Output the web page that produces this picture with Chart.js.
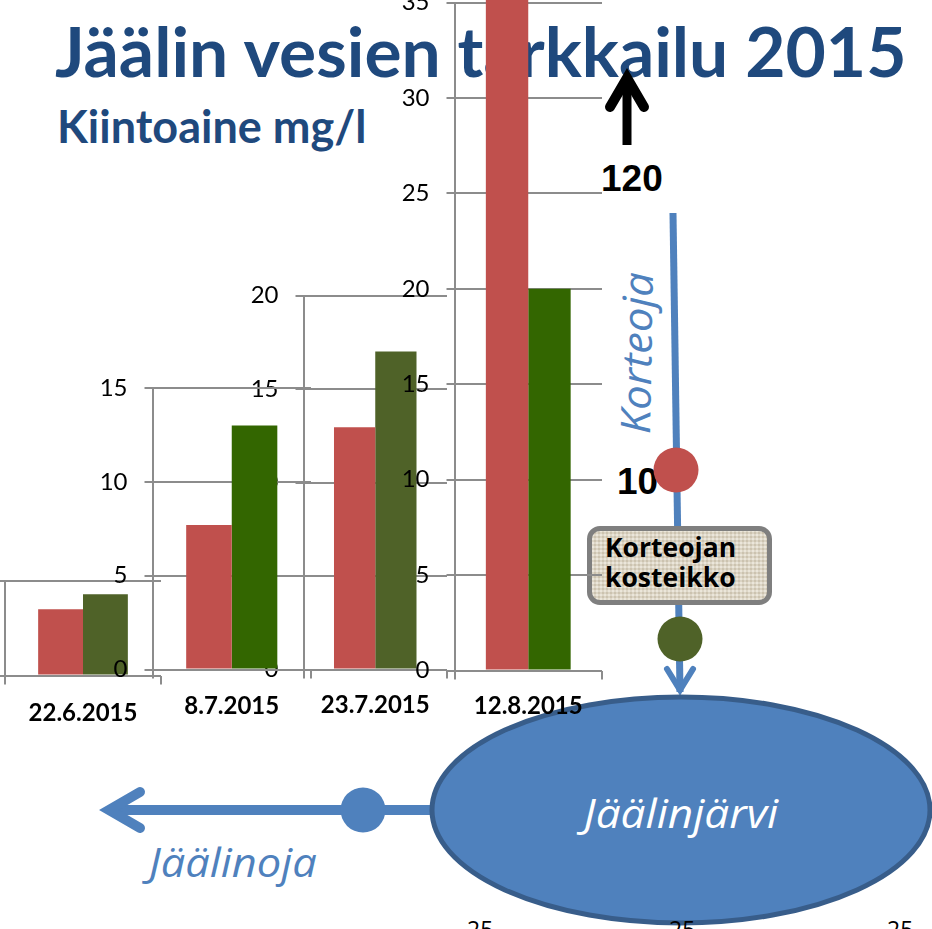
<!DOCTYPE html>
<html><head><meta charset="utf-8">
<script src="https://cdn.jsdelivr.net/npm/chart.js@4"></script>
<style>
html,body{margin:0;padding:0;background:#fff;width:932px;height:929px;overflow:hidden}
#stage{position:relative;width:932px;height:929px;overflow:hidden}
canvas.c{position:absolute}
.t{position:absolute;white-space:nowrap;line-height:1;margin:0}
#title{left:55px;top:16px;font:700 69.5px/1 Lato,sans-serif;color:#1F497D}
#sub{left:57px;top:104px;font:700 45px/1 Lato,sans-serif;color:#1F497D}
.b{font:700 37px/1 "Liberation Sans",Arial,sans-serif;color:#000}
.i{font:italic 400 41px/1 "Open Sans",sans-serif;color:#4F81BD}
.bt{font:400 23px/1 "Open Sans",sans-serif;color:#000}
#box{position:absolute;left:587px;top:526px;width:175px;height:69px;border:5px solid #7F7F7F;border-radius:13px;
background-color:#E0D8C6;background-image:repeating-linear-gradient(0deg,rgba(255,255,255,.2) 0 2px,rgba(120,105,80,.1) 2px 4px),repeating-linear-gradient(90deg,rgba(255,255,255,.2) 0 2px,rgba(120,105,80,.1) 2px 4px);
font:700 26.5px/30px "Open Sans",sans-serif;color:#000;padding:0}
#box span{position:absolute;left:13px;top:1px;white-space:nowrap}
svg{position:absolute;left:0;top:0}
</style></head><body>
<div id="stage">
<div class="t" id="title">Jäälin vesien tarkkailu 2015</div>
<div class="t" id="sub">Kiintoaine mg/l</div>
<svg width="932" height="929" viewBox="0 0 932 929">
 <g fill="none" stroke="#000" stroke-linecap="round" stroke-linejoin="miter">
  <line x1="627" y1="145" x2="627" y2="85" stroke-width="9" stroke-linecap="butt"/>
  <path d="M610 107 L627 78 L644 107" stroke-width="10"/>
 </g>
 <g fill="none" stroke="#4F81BD" stroke-linecap="round">
  <line x1="673" y1="213" x2="680" y2="692" stroke-width="7" stroke-linecap="butt"/>
  <path d="M667 669 L680 690 L693 669" stroke-width="6"/>
  <line x1="112" y1="810" x2="434" y2="810" stroke-width="10" stroke-linecap="butt"/>
  <path d="M140 792 L109 810 L140 828" stroke-width="10" stroke-miterlimit="10"/>
 </g>
 <ellipse cx="681" cy="810" rx="249" ry="113" fill="#4F81BD" stroke="#385D8A" stroke-width="5"/>
 <circle cx="363" cy="810" r="22.5" fill="#4F81BD"/>
</svg>
<div class="t b" style="left:601px;top:160px">120</div>
<div class="t b" style="left:617px;top:463px">10</div>
<svg width="932" height="929" viewBox="0 0 932 929" style="pointer-events:none">
 <circle cx="676" cy="470" r="22.5" fill="#C0504D"/>
 <circle cx="680" cy="639" r="22.5" fill="#4F6228"/>
</svg>
<div class="t i" style="left:636px;top:353px;transform:translate(-50%,-50%) rotate(-89deg) scaleX(1.06);transform-origin:center">Korteoja</div>
<div id="box"><span>Korteojan<br>kosteikko</span></div>
<div class="t i" style="left:149px;top:841px;transform:scaleX(1.06);transform-origin:left">Jäälinoja</div>
<div class="t i" style="left:681px;top:812px;transform:translate(-50%,-50%) scaleX(1.076);color:#fff">Jäälinjärvi</div>
<div class="t bt" style="left:467px;top:918px">25</div>
<div class="t bt" style="left:669px;top:918px">25</div>
<div class="t bt" style="left:887px;top:918px">25</div>
<canvas class="c" id="c1"></canvas>
<canvas class="c" id="c3"></canvas>
<canvas class="c" id="c2"></canvas>
<canvas class="c" id="c4"></canvas>
</div>
<script>
const dates = ["22.6.2015","8.7.2015","23.7.2015","12.8.2015"];
const redValues = [3.5,7.7,12.95,120];
const greenValues = [4.3,13,17,20];
const axisMax = [5,15,20,35];
const greenColors = ["#4F6228","#336600","#4F6228","#336600"];
const redColor = "#C0504D";
const gridColor = "#8C8C8C";
// plot rectangles in page pixels: left, top, right, bottom (layout only)
const frames = [[5,581,161,675.5],[152.5,388,311,669.5],[303.5,295.5,447,669.5],[454.5,2.5,602,670.5]];
const labelPad = [7,7,7,7];
const xLabelPad = [14,13,12,12];
const ids = ["c1","c2","c3","c4"];
const Y_W = 70, X_H = 50, TOP = 40, RIGHT = 4;
Chart.defaults.animation = false;
dates.forEach((d,i)=>{
  const [l,t,r,b] = frames[i];
  const cl = Math.floor(l) - Y_W, ct = Math.floor(t) - TOP;
  const w = Math.ceil(r) - cl + RIGHT, h = Math.ceil(b) + X_H - ct;
  const cv = document.getElementById(ids[i]);
  cv.style.left = cl+"px"; cv.style.top = ct+"px";
  cv.style.width = w+"px"; cv.style.height = h+"px"; cv.width = w; cv.height = h;
  new Chart(cv,{
    type:"bar",
    data:{labels:[d],datasets:[
      {label:"a",data:[redValues[i]],backgroundColor:redColor,clip:false,barPercentage:1,categoryPercentage:.575},
      {label:"b",data:[greenValues[i]],backgroundColor:greenColors[i],clip:false,barPercentage:1,categoryPercentage:.575}
    ]},
    options:{
      responsive:false,maintainAspectRatio:false,
      layout:{autoPadding:false,padding:{left:l-cl-Y_W,top:t-ct,right:w-(r-cl),bottom:0}},
      plugins:{legend:{display:false},tooltip:{enabled:false},title:{display:false}},
      scales:{
        x:{afterFit:s=>{s.height=h-(b-ct);},
           grid:{offset:true,drawOnChartArea:false,drawTicks:true,tickLength:9,color:gridColor,lineWidth:2},
           border:{display:false},
           ticks:{maxRotation:0,padding:xLabelPad[i],font:{family:"Lato",weight:"700",size:24},color:"#000"}},
        y:{min:0,max:axisMax[i],afterFit:s=>{s.width=Y_W;},
           grid:{color:gridColor,lineWidth:2,tickLength:8,drawTicks:true},
           border:{display:true,color:gridColor,width:2},
           ticks:{stepSize:5,padding:labelPad[i]+10,font:{family:"Lato",size:24},color:"#000"}}
      }
    }
  });
});
</script>
</body></html>
